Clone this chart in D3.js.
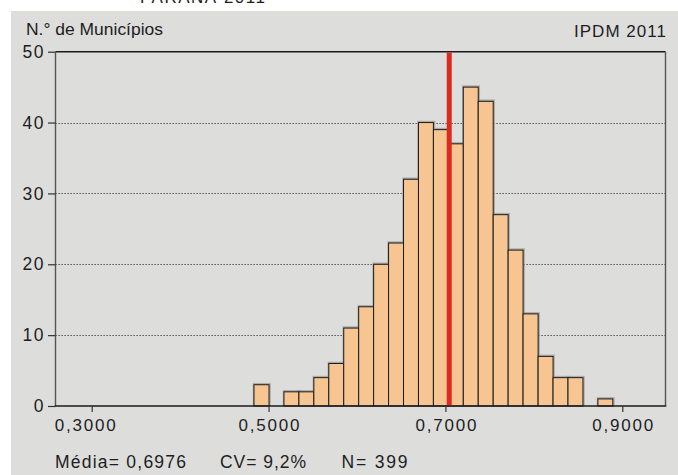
<!DOCTYPE html>
<html>
<head>
<meta charset="utf-8">
<script src="https://cdn.jsdelivr.net/npm/d3@7/dist/d3.min.js"></script>
<style>
  html, body { margin: 0; padding: 0; background: #ffffff; }
  svg { display: block; }
  text { font-family: "Liberation Sans", Arial, sans-serif; fill: #1e1e1e; }
</style>
</head>
<body>
<div id="chart"></div>
<script>
// ---- data ----
const binStarts = [0.4835, 0.5005, 0.5174, 0.5343, 0.5512, 0.5681, 0.5850, 0.6019,
                   0.6188, 0.6357, 0.6526, 0.6695, 0.6864, 0.7033, 0.7202, 0.7371,
                   0.7540, 0.7709, 0.7878, 0.8048, 0.8217, 0.8386, 0.8555, 0.8724];
const binEnds   = [0.5005, 0.5174, 0.5343, 0.5512, 0.5681, 0.5850, 0.6019, 0.6188,
                   0.6357, 0.6526, 0.6695, 0.6864, 0.7033, 0.7202, 0.7371, 0.7540,
                   0.7709, 0.7878, 0.8048, 0.8217, 0.8386, 0.8555, 0.8724, 0.8893];
const counts    = [3, 0, 2, 2, 4, 6, 11, 14, 20, 23, 32, 40, 39, 37, 45, 43, 27, 22, 13, 7, 4, 4, 0, 1];
const meanLineValue = 0.7043;
const xTicks = [0.3, 0.5, 0.7, 0.9];
const xTickLabels = ["0,3000", "0,5000", "0,7000", "0,9000"];
const yTicks = [0, 10, 20, 30, 40, 50];
const yGrid = [10, 20, 30, 40];
const titleText = "PARANÁ 2011";
const yAxisTitle = "N.° de Municípios";
const cornerLabel = "IPDM 2011";
const statsLabels = ["Média= 0,6976", "CV= 9,2%", "N= 399"];

// ---- layout ----
const W = 678, H = 475;
const plot = { left: 55.5, right: 665.5, top: 51.7, bottom: 406 };
const FONT = "'Liberation Sans', Arial, sans-serif";

const svg = d3.select("#chart").append("svg")
  .attr("width", W).attr("height", H);

// gray panel
svg.append("rect").attr("x", 11).attr("y", 11).attr("width", W - 11).attr("height", H - 11)
  .attr("fill", "#dddddc");

// title (cut off at the top, as in the reference)
svg.append("text").attr("x", 140).attr("y", 2.5)
  .style("font-size", "17px").attr("textLength", 125).attr("lengthAdjust", "spacing")
  .text(titleText);

const x = d3.scaleLinear().domain([0.25906, 0.94885]).range([plot.left, plot.right]);
const y = d3.scaleLinear().domain([0, 50]).range([plot.bottom, plot.top]);

// grid lines (dotted)
svg.append("g").selectAll("line").data(yGrid).join("line")
  .attr("x1", plot.left).attr("x2", plot.right)
  .attr("y1", d => Math.round(y(d)) + 0.5).attr("y2", d => Math.round(y(d)) + 0.5)
  .attr("stroke", "#333").attr("stroke-width", 1).attr("stroke-dasharray", "1.2,1.8");

const bins = counts.map((c, i) => ({ x0: binStarts[i], x1: binEnds[i], n: c })).filter(d => d.n > 0);

// soft shadow / halo around bars
svg.append("g").selectAll("rect").data(bins).join("rect")
  .attr("x", d => x(d.x0) - 1.2)
  .attr("y", d => y(d.n) - 1.8)
  .attr("width", d => x(d.x1) - x(d.x0) + 3)
  .attr("height", d => y(0) - y(d.n) + 1.8)
  .attr("fill", "#9b9b9b").attr("opacity", 0.75);

// bars
svg.append("g").selectAll("rect").data(bins).join("rect")
  .attr("x", d => x(d.x0))
  .attr("y", d => y(d.n))
  .attr("width", d => x(d.x1) - x(d.x0))
  .attr("height", d => y(0) - y(d.n))
  .attr("fill", "#f6c592").attr("stroke", "#1c1c1c").attr("stroke-width", 1);

// frame
svg.append("line").attr("x1", plot.left).attr("x2", plot.right).attr("y1", plot.top).attr("y2", plot.top)
  .attr("stroke", "#1a1a1a").attr("stroke-width", 1.4);
svg.append("line").attr("x1", plot.right).attr("x2", plot.right).attr("y1", plot.top).attr("y2", plot.bottom)
  .attr("stroke", "#555").attr("stroke-width", 1.4);
svg.append("line").attr("x1", plot.left).attr("x2", plot.left).attr("y1", plot.top).attr("y2", plot.bottom)
  .attr("stroke", "#555").attr("stroke-width", 1.4);
svg.append("line").attr("x1", plot.left - 0.7).attr("x2", plot.right + 0.7).attr("y1", plot.bottom).attr("y2", plot.bottom)
  .attr("stroke", "#1a1a1a").attr("stroke-width", 1.4);

// mean line
svg.append("line").attr("x1", x(meanLineValue)).attr("x2", x(meanLineValue))
  .attr("y1", plot.top + 0.7).attr("y2", plot.bottom - 0.7)
  .attr("stroke", "#dc2a1f").attr("stroke-width", 5);

// y axis
const yAxis = d3.axisLeft(y).tickValues(yTicks).tickSize(7.5).tickPadding(4.5).tickFormat(d3.format("d"));
const gy = svg.append("g").attr("transform", `translate(${plot.left},0)`).call(yAxis);
gy.select(".domain").remove();
gy.selectAll(".tick line").attr("stroke", "#333").attr("stroke-width", 1.2);
gy.selectAll(".tick text").attr("fill", "#1e1e1e")
  .style("font-family", FONT).style("font-size", "17.5px")
  .attr("textLength", d => d === 0 ? 10 : 21).attr("lengthAdjust", "spacing");

// x axis
const xAxis = d3.axisBottom(x).tickValues(xTicks).tickSize(6).tickPadding(7)
  .tickFormat((d, i) => xTickLabels[i]);
const gx = svg.append("g").attr("transform", `translate(0,${plot.bottom})`).call(xAxis);
gx.select(".domain").remove();
gx.selectAll(".tick line").attr("stroke", "#333").attr("stroke-width", 1.2);
gx.selectAll(".tick text").attr("fill", "#1e1e1e")
  .style("font-family", FONT).style("font-size", "17px")
  .attr("textLength", 61).attr("lengthAdjust", "spacing")
  .attr("dx", (d, i) => i === 0 ? -7 : 0);

// labels
svg.append("text").attr("x", 26).attr("y", 34.5)
  .style("font-size", "17px").attr("textLength", 137).attr("lengthAdjust", "spacingAndGlyphs")
  .text(yAxisTitle);
svg.append("text").attr("x", 574).attr("y", 36.5)
  .style("font-size", "17px").attr("textLength", 92).attr("lengthAdjust", "spacing")
  .text(cornerLabel);

const statsX = [55, 220, 341.5];
const statsW = [131, 86, 66];
svg.append("g").selectAll("text").data(statsLabels).join("text")
  .attr("x", (d, i) => statsX[i]).attr("y", 468)
  .style("font-size", "17.5px")
  .attr("textLength", (d, i) => statsW[i]).attr("lengthAdjust", "spacing")
  .text(d => d);
</script>
</body>
</html>
